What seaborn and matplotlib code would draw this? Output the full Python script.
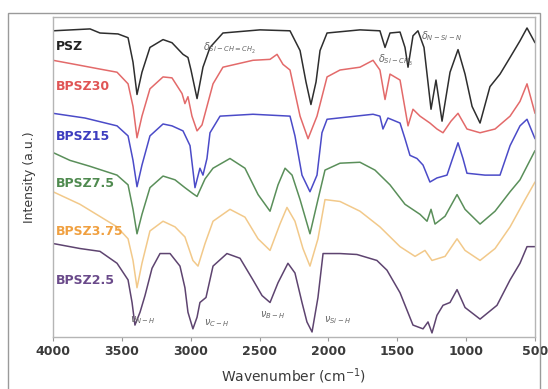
import numpy as np
import pandas as pd
import matplotlib
matplotlib.use("Agg")
import matplotlib.pyplot as plt
from matplotlib.patches import Rectangle
import seaborn as sns

# ---------------- data ----------------
psz_wn = [4000, 3731, 3659, 3528, 3455, 3419, 3390, 3354, 3296, 3201, 3136, 3056, 3020, 2998,
          2954, 2911, 2860, 2766, 2497, 2279, 2206, 2163, 2127, 2090, 2061, 2010, 1771, 1626,
          1589, 1553, 1480, 1444, 1422, 1386, 1350, 1306, 1255, 1219, 1175, 1117, 1059, 1008,
          957, 899, 827, 754, 681, 609, 558, 500]
psz_i = [96.6, 97.2, 95.9, 95.6, 94.4, 86.6, 76.3, 83.4, 91.3, 93.8, 92.8, 89.1, 88.1, 84.1,
         75.0, 85.0, 91.3, 95.9, 96.9, 96.6, 90.3, 80.3, 73.1, 80.3, 90.3, 95.9, 96.9, 96.6,
         91.3, 95.9, 96.2, 91.3, 85.0, 95.0, 96.6, 91.3, 71.6, 80.9, 67.8, 83.4, 90.6, 82.8,
         72.5, 67.2, 78.8, 82.8, 88.1, 93.4, 97.5, 92.8]

b30_wn = [4000, 3804, 3659, 3535, 3455, 3419, 3390, 3354, 3296, 3201, 3136, 3063, 3042, 3020,
          2991, 2954, 2918, 2882, 2838, 2766, 2548, 2424, 2373, 2330, 2279, 2206, 2148, 2083,
          2010, 1916, 1771, 1676, 1626, 1589, 1553, 1480, 1422, 1386, 1335, 1263, 1212, 1168,
          1110, 1059, 994, 899, 790, 681, 609, 558, 500]
b30_i = [87.2, 85.6, 84.4, 83.4, 79.7, 72.5, 62.5, 69.4, 78.1, 81.9, 81.6, 76.6, 73.4, 75.6,
         69.4, 64.7, 66.6, 72.5, 79.7, 85.0, 87.2, 87.5, 89.1, 85.9, 84.1, 69.4, 62.2, 69.4,
         81.9, 84.1, 85.0, 87.2, 84.1, 74.7, 82.8, 80.9, 66.3, 71.6, 69.4, 67.2, 65.3, 64.1,
         67.8, 70.3, 65.3, 64.1, 65.3, 69.4, 74.1, 79.7, 70.3]

b15_wn = [4000, 3768, 3535, 3455, 3419, 3390, 3354, 3296, 3201, 3136, 3056, 3005, 2969, 2933,
          2911, 2882, 2860, 2787, 2548, 2279, 2243, 2192, 2134, 2083, 2047, 2010, 1676, 1626,
          1604, 1568, 1480, 1444, 1408, 1357, 1313, 1263, 1212, 1139, 1103, 1059, 1023, 994,
          863, 754, 681, 609, 558, 500]
b15_i = [70.3, 68.8, 66.3, 63.1, 55.3, 46.9, 53.8, 63.1, 66.9, 66.3, 64.7, 60.0, 46.6, 52.8,
         50.6, 55.9, 64.1, 69.4, 70.0, 69.4, 63.1, 50.6, 45.3, 50.6, 64.1, 68.4, 70.0, 69.4,
         65.3, 68.8, 67.2, 62.2, 56.9, 55.9, 53.8, 48.4, 49.7, 50.6, 55.3, 60.9, 55.9, 51.2,
         50.6, 50.6, 60.0, 66.3, 68.4, 62.2]

b7_wn = [4000, 3877, 3731, 3535, 3455, 3419, 3390, 3354, 3296, 3201, 3114, 3042, 2984, 2954,
         2896, 2838, 2715, 2606, 2511, 2424, 2366, 2315, 2264, 2206, 2134, 2076, 2025, 1916,
         1771, 1662, 1553, 1444, 1335, 1284, 1255, 1226, 1153, 1066, 1008, 899, 790, 681,
         609, 500]
b7_i = [57.8, 55.3, 53.4, 50.6, 47.5, 39.7, 31.9, 38.1, 46.6, 50.3, 49.1, 46.6, 44.7, 43.8,
        49.4, 52.8, 55.9, 52.8, 44.4, 39.1, 47.5, 52.8, 50.6, 42.8, 31.9, 42.8, 52.2, 54.4,
        54.7, 52.2, 47.5, 41.3, 38.1, 35.9, 39.7, 35.0, 37.5, 44.4, 39.7, 35.0, 39.1, 45.3,
        49.1, 58.4]

b375_wn = [4000, 3804, 3535, 3455, 3419, 3390, 3354, 3296, 3201, 3114, 3042, 2984, 2947, 2896,
           2838, 2715, 2606, 2511, 2424, 2352, 2301, 2243, 2185, 2134, 2076, 2025, 1916, 1771,
           1626, 1480, 1371, 1299, 1248, 1153, 1066, 1008, 899, 790, 681, 572, 500]
b375_i = [45.3, 41.3, 34.1, 30.3, 23.4, 14.7, 22.5, 32.8, 35.9, 34.1, 30.9, 23.4, 21.6, 28.8,
          35.9, 39.7, 37.2, 30.3, 26.6, 35.0, 40.3, 35.9, 27.2, 21.6, 30.3, 42.8, 42.2, 39.1,
          34.1, 27.8, 24.7, 26.6, 23.4, 24.7, 30.3, 26.6, 23.4, 27.2, 34.1, 42.8, 48.4]

b25_wn = [4000, 3804, 3659, 3535, 3455, 3426, 3405, 3368, 3332, 3281, 3223, 3150, 3078, 3042,
          3020, 2984, 2954, 2933, 2889, 2838, 2737, 2642, 2548, 2482, 2424, 2366, 2294, 2243,
          2192, 2156, 2119, 2076, 2039, 1916, 1793, 1648, 1575, 1480, 1386, 1313, 1277, 1248,
          1212, 1168, 1117, 1066, 1008, 899, 776, 681, 609, 558, 500]
b25_i = [28.8, 27.2, 26.3, 22.5, 17.2, 10.0, 2.8, 6.9, 12.2, 20.9, 25.6, 25.6, 21.6, 14.7,
         6.9, 1.6, 5.3, 10.0, 11.6, 21.6, 25.6, 24.1, 17.2, 12.2, 10.0, 16.3, 22.5, 19.4,
         10.0, 3.8, 0.6, 11.6, 25.6, 25.6, 25.3, 23.4, 20.3, 13.1, 2.8, 1.6, 3.8, 0.3,
         5.9, 9.1, 10.0, 14.1, 8.4, 4.7, 9.1, 17.2, 22.5, 27.8, 27.8]

sample_names = ["PSZ", "BPSZ30", "BPSZ15", "BPSZ7.5", "BPSZ3.75", "BPSZ2.5"]
line_colors = ["#2e2e2e", "#e36a6a", "#4b4bc8", "#5a8f5a", "#f2c98a", "#5e4470"]
label_colors = ["#222222", "#e05555", "#3d3dbf", "#4f8a4f", "#f0a040", "#6a4a8a"]
label_y = [91.5, 79.0, 63.0, 48.0, 32.5, 17.0]

tick_values = [4000, 3500, 3000, 2500, 2000, 1500, 1000, 500]

# ---------------- build long table ----------------
series = [(psz_wn, psz_i), (b30_wn, b30_i), (b15_wn, b15_i),
          (b7_wn, b7_i), (b375_wn, b375_i), (b25_wn, b25_i)]
frames = []
for name, (wn, it) in zip(sample_names, series):
    frames.append(pd.DataFrame({"wavenumber": wn, "intensity": it, "sample": name}))
df = pd.concat(frames, ignore_index=True)

# ---------------- plot ----------------
sns.set_theme(style="white")
plt.rcParams["font.family"] = ["DejaVu Sans"]

fig = plt.figure(figsize=(5.48, 3.89), dpi=100)
ax = fig.add_axes([53 / 548, 1 - 337 / 389, 482 / 548, 320 / 389])

sns.lineplot(data=df, x="wavenumber", y="intensity", hue="sample",
             hue_order=sample_names, palette=dict(zip(sample_names, line_colors)),
             sort=False, estimator=None, linewidth=1.1, legend=False, ax=ax)

ax.set_xlim(4000, 500)
ax.set_ylim(-1, 101)
ax.set_xticks(tick_values)
ax.set_xticklabels([str(t) for t in tick_values], fontsize=9, color="#3a3a3a",
                   fontweight="semibold")
ax.set_yticks([])
ax.tick_params(axis="x", direction="out", length=3, width=0.8, color="#999999", pad=3,
               bottom=True)
ax.set_xlabel("Wavenumber (cm$^{-1}$)", fontsize=10, color="#3a3a3a", labelpad=6)
ax.set_ylabel("Intensity (a.u.)", fontsize=9, color="#3a3a3a", labelpad=12)
for sp in ax.spines.values():
    sp.set_color("#b5b5b5")
    sp.set_linewidth(1.0)

for name, col, yv in zip(sample_names, label_colors, label_y):
    ax.text(3980, yv, name, color=col, fontsize=9, fontweight="bold",
            ha="left", va="center")

ann_kw = dict(fontsize=7, color="#666666", ha="left", va="center")
ax.text(3440, 4.5, r"$\nu_{N-H}$", **ann_kw)
ax.text(2900, 3.5, r"$\nu_{C-H}$", **ann_kw)
ax.text(2500, 6.0, r"$\nu_{B-H}$", **ann_kw)
ax.text(2030, 4.5, r"$\nu_{Si-H}$", **ann_kw)
ax.text(2910, 91.0, r"$\delta_{Si-CH=CH_2}$", **ann_kw)
ax.text(1640, 87.0, r"$\delta_{Si-CH_3}$", **ann_kw)
ax.text(1330, 95.0, r"$\delta_{N-Si-N}$", **ann_kw)

# outer panel frame
fig.patches.append(Rectangle((8 / 548, -0.02), 532 / 548, 1 - 13 / 389 + 0.02,
                             transform=fig.transFigure, fill=False,
                             edgecolor="#9a9a9a", linewidth=1.0))

fig.savefig("out.png", dpi=100)
